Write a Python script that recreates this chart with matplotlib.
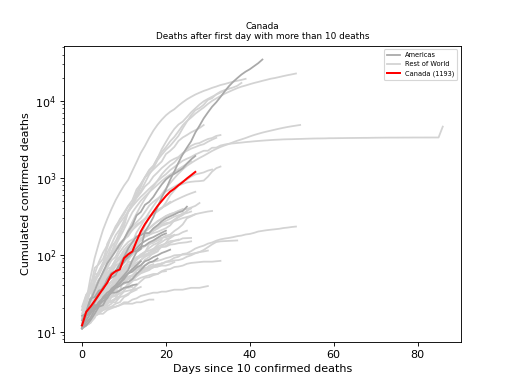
import matplotlib
matplotlib.use("Agg")
import matplotlib.pyplot as plt

# ---------------- data: cumulative deaths, day 0 = first day with >10 deaths
canada = [12, 18, 21, 25, 30, 36, 43, 55, 61, 64, 90, 101, 110, 150, 200, 250, 300,
          360, 430, 500, 580, 660, 720, 800, 880, 980, 1080, 1193]
canada_label = "Canada (1193)"

# Americas
us = [11, 12, 14, 17, 21, 22, 28, 36, 40, 47, 54, 63, 85, 108, 118, 200, 244, 307, 417,
      557, 706, 942, 1209, 1581, 2026, 2467, 2978, 3873, 4757, 5926, 7087, 8407, 9619,
      11248, 13298, 15526, 17691, 19802, 22038, 24062, 25871, 28326, 30985, 34600]
brazil = [11, 18, 25, 34, 46, 59, 77, 92, 111, 136, 159, 201, 240, 324, 359, 445, 486,
          564, 686, 819, 950, 1057, 1124, 1223, 1328, 1532, 1736, 1924]
ecuador = [14, 18, 27, 28, 34, 36, 48, 58, 60, 75, 93, 120, 145, 172, 180, 191, 191, 220,
           242, 272, 297, 315, 333, 355, 369, 421]
peru = [11, 16, 18, 24, 30, 38, 44, 55, 61, 73, 83, 92, 107, 121, 138, 150, 161, 169,
        181, 193, 205]
dominican = [11, 13, 15, 19, 22, 28, 32, 35, 39, 42, 51, 57, 60, 68, 73, 82, 86, 93, 98,
             105, 110, 116]
chile = [12, 16, 18, 22, 22, 25, 27, 34, 37, 43, 48, 57, 65, 73, 82]
panama = [12, 14, 17, 20, 24, 27, 30, 32, 32, 34, 37, 38, 40, 41]
argentina = [12, 17, 19, 20, 24, 27, 28, 32, 37, 39, 43, 44, 48, 56, 63, 72, 79, 82, 89]
colombia = [16, 17, 19, 25, 32, 35, 46, 50, 54, 69, 80, 100, 109, 112, 127, 131, 144,
            153, 166, 179, 189]

# Rest of World
italy = [12, 17, 21, 29, 34, 52, 79, 107, 148, 197, 233, 366, 463, 631, 827, 1016, 1266,
         1441, 1809, 2158, 2503, 2978, 3405, 4032, 4825, 5476, 6077, 6820, 7503, 8215,
         9134, 10023, 10779, 11591, 12428, 13155, 13915, 14681, 15362, 15887, 16523,
         17127, 17669, 18279, 18849, 19468, 19899, 20465, 21067, 21645, 22170, 22745]
spain = [12, 25, 50, 90, 140, 210, 290, 390, 510, 640, 790, 940, 1230, 1600, 2100, 2600,
         3300, 4100, 4900, 5700, 6500, 7200, 7800, 8700, 9600, 10500, 11300, 12100,
         12800, 13500, 14100, 14800, 15400, 16100, 16600, 17200, 17800, 18300, 18800, 19400]
france = [19, 30, 33, 48, 61, 79, 91, 127, 148, 175, 264, 372, 450, 562, 674, 860, 1100,
          1331, 1696, 1995, 2314, 2606, 3024, 3523, 4403, 5387, 6507, 7560, 8078, 8911,
          10328, 10869, 12210, 13197, 13832, 14393, 14967, 15729, 17167]
uk = [11, 21, 21, 56, 56, 72, 138, 178, 234, 282, 336, 423, 466, 580, 761, 1021, 1231,
      1411, 1793, 2357, 2926, 3611, 4320, 4943, 5385, 6171, 7111, 7993, 8974, 9892,
      10629, 11347, 12107, 12868, 13729, 14576]
china = [17, 25, 41, 56, 80, 106, 132, 170, 213, 259, 304, 362, 426, 492, 564, 634, 719,
         806, 906, 1013, 1113, 1259, 1380, 1523, 1665, 1770, 1868, 2007, 2122, 2247, 2251,
         2458, 2469, 2629, 2708, 2770, 2804, 2838, 2873, 2915, 2946, 2984, 3015, 3045,
         3073, 3099, 3123, 3140, 3162, 3173, 3180, 3194, 3204, 3218, 3231, 3242, 3250,
         3253, 3259, 3274, 3274, 3281, 3285, 3291, 3296, 3299, 3304, 3308, 3309, 3316,
         3322, 3326, 3330, 3333, 3335, 3335, 3337, 3339, 3340, 3343, 3343, 3343, 3345,
         3345, 3346, 3346, 4636]
iran = [15, 19, 22, 26, 34, 43, 54, 66, 77, 92, 107, 124, 145, 194, 237, 291, 354, 429,
        514, 611, 724, 853, 988, 1135, 1284, 1433, 1556, 1685, 1812, 1934, 2077, 2234,
        2378, 2517, 2640, 2757, 2898, 3036, 3160, 3294, 3452, 3603, 3739, 3872, 3993,
        4110, 4232, 4357, 4474, 4585, 4683, 4777, 4869]
germany = [12, 13, 17, 24, 28, 44, 67, 84, 94, 123, 157, 206, 267, 342, 433, 533, 645, 775,
           920, 1107, 1275, 1444, 1584, 1810, 2016, 2349, 2607, 2767, 2836, 3022, 3194,
           3294, 3504, 3600]
belgium = [14, 21, 37, 67, 75, 88, 122, 178, 220, 289, 353, 431, 513, 705, 828, 1011, 1143,
           1283, 1447, 1632, 2035, 2240, 2523, 3019, 3346, 3600, 3903, 4157, 4440, 4857]
netherlands = [12, 20, 24, 43, 58, 76, 106, 136, 179, 213, 276, 356, 434, 546, 639, 771,
               864, 1039, 1173, 1339, 1487, 1651, 1766, 1867, 2101, 2248, 2396, 2511,
               2643, 2737, 2945, 3134, 3315]
switzerland = [13, 14, 27, 28, 41, 54, 75, 98, 120, 122, 153, 191, 231, 264, 300, 359, 433,
               488, 536, 591, 666, 715, 765, 821, 895, 948, 1036, 1106, 1138, 1174, 1239,
               1281]
sweden = [11, 12, 15, 16, 20, 21, 25, 36, 62, 77, 105, 105, 110, 146, 180, 239, 308, 358,
          373, 401, 477, 591, 687, 793, 833, 870, 887, 899, 905, 919, 1033, 1203, 1333, 1400]
turkey = [21, 30, 37, 44, 59, 75, 92, 108, 131, 168, 214, 277, 356, 425, 501, 574, 649,
          725, 812, 908, 1006, 1101, 1198, 1296, 1403, 1518, 1643]
portugal = [12, 14, 23, 33, 43, 60, 76, 100, 119, 140, 160, 187, 209, 246, 266, 295, 311,
            345, 380, 409, 435, 470, 504, 535, 567, 599, 629, 657]
austria = [12, 16, 21, 28, 30, 49, 58, 68, 86, 108, 128, 146, 158, 168, 186, 204, 220,
           243, 273, 295, 319, 337, 350, 368, 384, 393, 410, 431, 470]
denmark = [13, 13, 24, 32, 34, 41, 52, 65, 72, 77, 90, 104, 123, 139, 161, 179, 187, 203,
           218, 237, 247, 260, 273, 285, 299, 309, 321, 336, 346, 355, 364, 370]
korea = [11, 12, 13, 16, 17, 22, 28, 32, 35, 42, 44, 50, 53, 54, 60, 66, 66, 72, 75, 75,
         81, 84, 91, 94, 102, 104, 111, 120, 126, 131, 139, 144, 152, 158, 162, 165, 169,
         174, 177, 183, 186, 192, 200, 204, 208, 211, 214, 217, 222, 225, 229, 232]
japan = [12, 14, 15, 16, 19, 21, 22, 28, 29, 35, 36, 42, 46, 52, 57, 60, 63, 69, 70, 77,
         80, 81, 84, 85, 88, 94, 98, 104, 108, 115, 125, 136, 146, 149, 150, 151, 152, 153]
san_marino = [11, 12, 14, 16, 17, 19, 20, 21, 21, 22, 24, 24, 26, 27, 29, 30, 31, 32, 32,
              33, 33, 34, 35, 35, 35, 36, 37, 37, 37, 38, 39]
indonesia = [19, 25, 32, 38, 48, 49, 55, 58, 78, 87, 102, 114, 122, 136, 157, 170, 181,
             191, 198, 209, 221, 240, 280, 306, 327, 373, 399]
philippines = [12, 14, 17, 19, 25, 33, 35, 38, 45, 54, 68, 71, 78, 88, 96, 107, 136, 144,
               152, 163, 177, 182, 203, 221, 247, 297, 315, 335]
ireland = [19, 22, 36, 46, 54, 71, 85, 98, 120, 137, 158, 174, 210, 235, 263, 287, 320,
           334, 365, 406, 444, 486]
norway = [12, 14, 19, 23, 25, 32, 39, 44, 50, 59, 62, 71, 76, 89, 101, 108, 113, 119, 128,
          134, 139, 150, 152, 154, 163, 164, 165]
israel = [12, 15, 16, 20, 26, 36, 40, 44, 49, 57, 65, 71, 79, 86, 95, 101, 103, 116, 123,
          126, 130, 142, 151, 157]
romania = [11, 17, 23, 26, 37, 43, 65, 69, 85, 94, 115, 133, 146, 151, 176, 197, 220, 247,
           270, 291, 316, 336, 351, 372, 392]
poland = [14, 16, 18, 22, 31, 33, 43, 57, 71, 79, 94, 107, 129, 152, 159, 174, 181, 208,
          232, 245, 257, 263, 286, 314, 347, 360]
algeria = [15, 17, 19, 21, 25, 26, 29, 31, 35, 44, 58, 83, 105, 130, 152, 173, 193, 205,
           235, 256, 275, 293, 313, 326, 336, 348, 364]
egypt = [14, 19, 20, 21, 24, 30, 36, 40, 41, 46, 52, 58, 66, 71, 85, 94, 103, 118, 135,
         146, 159, 164, 178, 183, 196, 205]
greece = [13, 15, 17, 20, 22, 26, 28, 32, 38, 43, 49, 50, 53, 63, 68, 73, 79, 81, 83, 86,
          90, 93, 98, 99, 100, 101, 102, 105, 108, 110, 113]
iraq = [12, 13, 17, 20, 23, 27, 29, 36, 40, 42, 42, 44, 46, 47, 50, 52, 54, 56, 56, 61,
        64, 65, 69, 70, 72, 76, 78, 79, 80, 81, 81, 81, 82, 83]
czechia = [11, 16, 23, 24, 31, 39, 44, 53, 59, 67, 78, 88, 99, 112, 119, 129, 138, 143,
           161, 166, 169, 173, 181]
hungary = [13, 15, 16, 20, 21, 26, 32, 34, 38, 47, 58, 66, 77, 85, 99, 109, 122, 134, 142,
           156]
morocco = [11, 23, 25, 26, 33, 36, 39, 44, 48, 59, 70, 80, 81, 90, 93, 97, 107, 111, 118,
           126, 127, 135, 137, 141, 143, 145, 149]
luxembourg = [15, 18, 22, 29, 30, 31, 35, 36, 41, 44, 46, 52, 54, 62, 66, 67, 69, 69, 70,
              72, 72, 75, 80]
finland = [11, 13, 17, 19, 20, 25, 27, 28, 34, 40, 42, 48, 49, 56, 59, 64, 72, 75]
serbia = [12, 16, 17, 23, 31, 39, 44, 51, 58, 61, 65, 66, 71, 74, 85, 94, 99, 103, 110]
pakistan = [11, 14, 18, 21, 26, 31, 35, 40, 45, 50, 54, 57, 63, 66, 71, 86, 93, 107, 111,
            128, 143, 168]
ukraine = [13, 17, 20, 22, 27, 32, 37, 45, 52, 57, 69, 73, 83, 93, 98, 108]
australia = [13, 14, 16, 18, 18, 19, 20, 21, 23, 24, 28, 30, 35, 40, 45, 50, 51, 54, 56,
             60, 61]
south_africa = [11, 12, 13, 18, 18, 24, 25, 25, 27, 34, 48, 50, 54, 58, 58]
slovenia = [11, 15, 17, 20, 28, 30, 36, 40, 43, 45, 46, 50, 53, 56, 61, 63, 66, 68, 74, 77]
croatia = [12, 15, 18, 19, 20, 21, 23, 25, 26, 28, 29, 31, 33, 35]
bosnia = [13, 13, 17, 17, 19, 20, 21, 23, 27, 29, 33, 34, 35, 36, 38]
albania = [11, 15, 15, 16, 17, 17, 19, 20, 21, 22, 23, 23, 23, 24, 24, 25, 26, 26]
moldova = [12, 14, 15, 17, 19, 23, 26, 29, 30, 31, 34, 40, 45]
tunisia = [12, 14, 18, 22, 22, 25, 28, 31, 34, 34, 37, 37, 38]
bangladesh = [12, 17, 20, 21, 27, 30, 34, 39, 46, 50, 60]
saudi = [16, 21, 25, 29, 34, 38, 41, 44, 47, 52, 59, 65, 73, 79, 83]
estonia = [12, 12, 13, 15, 19, 21, 24, 24, 24, 28]

americas_series = [us, brazil, ecuador, peru, dominican, chile, panama, argentina, colombia]
rest_series = [italy, spain, france, uk, china, iran, germany, belgium, netherlands,
               switzerland, sweden, turkey, portugal, austria, denmark, korea, japan,
               san_marino, indonesia, philippines, ireland, norway, israel, romania, poland,
               algeria, egypt, greece, iraq, czechia, hungary, morocco, luxembourg, finland,
               serbia, pakistan, ukraine, australia, south_africa, slovenia, croatia, bosnia,
               albania, moldova, tunisia, bangladesh, saudi, estonia]

title_text = "Canada\nDeaths after first day with more than 10 deaths"
xlabel_text = "Days since 10 confirmed deaths"
ylabel_text = "Cumulated confirmed deaths"

# ---------------- plot
fig, ax = plt.subplots(figsize=(6.4, 4.8), dpi=80)

for i, s in enumerate(rest_series):
    ax.plot(range(len(s)), s, color="lightgray", lw=1.6,
            label="Rest of World" if i == 0 else None, zorder=1)
for i, s in enumerate(americas_series):
    ax.plot(range(len(s)), s, color="darkgray", lw=1.6,
            label="Americas" if i == 0 else None, zorder=2)
ax.plot(range(len(canada)), canada, color="red", lw=1.8, label=canada_label, zorder=3)

ax.set_yscale("log")
ax.set_title(title_text, fontsize=8)
ax.set_xlabel(xlabel_text)
ax.set_ylabel(ylabel_text)

handles, labels = ax.get_legend_handles_labels()
order = [labels.index("Americas"), labels.index("Rest of World"), labels.index(canada_label)]
ax.legend([handles[i] for i in order], [labels[i] for i in order],
          loc="upper right", fontsize=6)

fig.savefig("out.png", dpi=80)
